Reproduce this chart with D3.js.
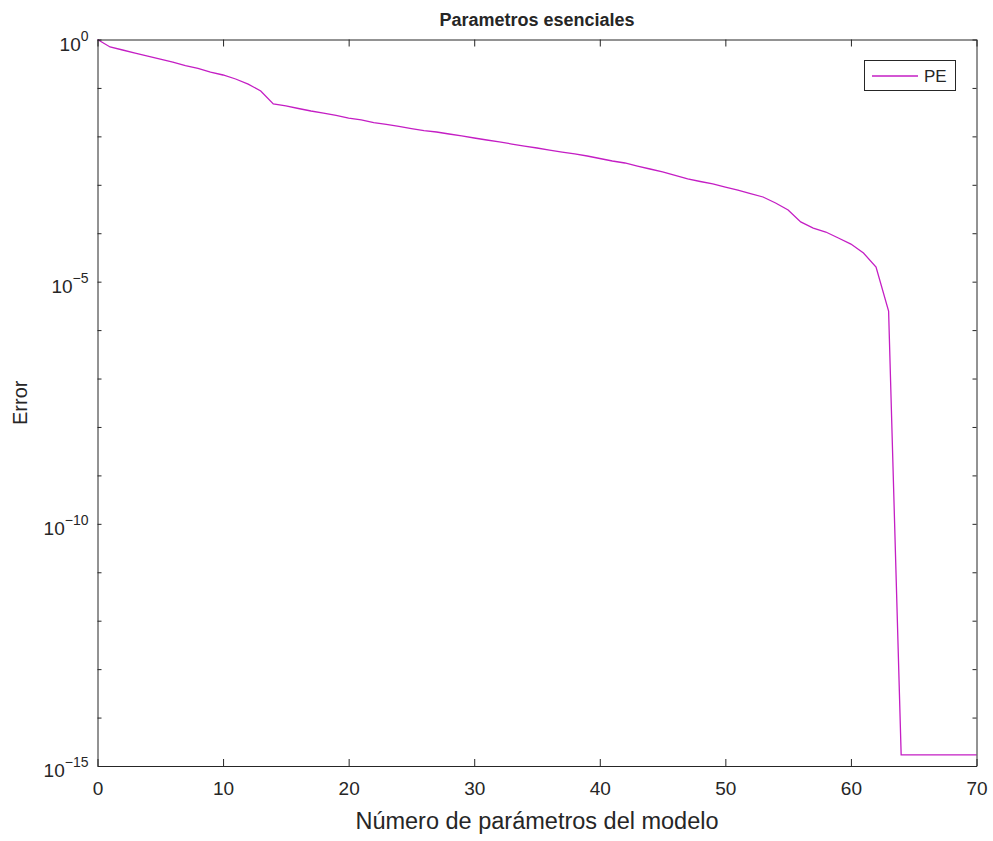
<!DOCTYPE html>
<html>
<head>
<meta charset="utf-8">
<script src="https://cdn.jsdelivr.net/npm/d3@7"></script>
<style>
  html, body { margin: 0; padding: 0; background: #fff; }
  svg { display: block; }
  text { font-family: "Liberation Sans", Arial, Helvetica, sans-serif; fill: #262626; }
</style>
</head>
<body>
<svg id="chart" width="993" height="841"></svg>
<script>
// ---- data ----
const xValues = [0,1,2,3,4,5,6,7,8,9,10,11,12,13,14,15,16,17,18,19,20,21,22,23,24,25,26,27,28,29,30,31,32,33,34,35,36,37,38,39,40,41,42,43,44,45,46,47,48,49,50,51,52,53,54,55,56,57,58,59,60,61,62,63,64,65,66,67,68,69,70];
const peValues = [1.0,0.70,0.607,0.526,0.456,0.395,0.343,0.290,0.252,0.213,0.185,0.153,0.120,0.0865,0.0466,0.0424,0.0376,0.0334,0.0303,0.0270,0.0239,0.0218,0.0193,0.0176,0.0160,0.0145,0.0132,0.0123,0.0112,0.0102,0.00925,0.00841,0.00766,0.00695,0.00632,0.00575,0.00522,0.00475,0.00433,0.00393,0.00349,0.00310,0.00282,0.00244,0.00212,0.00184,0.00156,0.00132,0.00117,0.00104,0.000900,0.000780,0.000661,0.000560,0.000421,0.000302,0.000171,0.000128,0.000106,0.0000796,0.0000598,0.0000390,0.0000200,0.00000248,1.7e-15,1.7e-15,1.7e-15,1.7e-15,1.7e-15,1.7e-15,1.7e-15];
const xTicks = [0,10,20,30,40,50,60,70];
const yMinorTicks = [1e0,1e-1,1e-2,1e-3,1e-4,1e-5,1e-6,1e-7,1e-8,1e-9,1e-10,1e-11,1e-12,1e-13,1e-14,1e-15];
const yLabelTicks = [1e0,1e-5,1e-10,1e-15];
const yLabelExps = ["0","\u22125","\u221210","\u221215"];
const titleText = "Parametros esenciales";
const xLabelText = "Número de parámetros del modelo";
const yLabelText = "Error";
const seriesName = "PE";

// ---- layout ----
const L = 97.5, R = 976.5, T = 39.5, B = 766;
const svg = d3.select("#chart");
const x = d3.scaleLinear().domain([0, 70]).range([L, R]);
const y = d3.scaleLog().domain([1e-15, 1]).range([B, T]);
const axisColor = "#262626";
const lineColor = "#c41ec4";

// plot line
const line = d3.line().x((d, i) => x(xValues[i])).y(d => y(d));
svg.append("path")
  .datum(peValues)
  .attr("d", line)
  .attr("fill", "none")
  .attr("stroke", lineColor)
  .attr("stroke-width", 1.3);

// axes (box)
function styleAxis(g) {
  g.selectAll("path.domain").attr("stroke", axisColor).attr("stroke-width", 1);
  g.selectAll(".tick line").attr("stroke", axisColor).attr("stroke-width", 1);
}
// bottom
const gb = svg.append("g").attr("transform", `translate(0,${B})`)
  .call(d3.axisBottom(x).tickValues(xTicks).tickSizeInner(-7).tickSizeOuter(0).tickPadding(16));
styleAxis(gb);
gb.selectAll("text").attr("font-size", 19).attr("fill", axisColor)
  .attr("font-family", '"Liberation Sans", Arial, sans-serif');
// top
const gt = svg.append("g").attr("transform", `translate(0,${T})`)
  .call(d3.axisTop(x).tickValues(xTicks).tickSizeInner(-7).tickSizeOuter(0).tickFormat(""));
styleAxis(gt);
// left
const gl = svg.append("g").attr("transform", `translate(${L},0)`)
  .call(d3.axisLeft(y).tickValues(yMinorTicks).tickSizeInner(-4).tickSizeOuter(0).tickFormat(""));
styleAxis(gl);
// right
const gr = svg.append("g").attr("transform", `translate(${R},0)`)
  .call(d3.axisRight(y).tickValues(yMinorTicks).tickSizeInner(-4).tickSizeOuter(0).tickFormat(""));
styleAxis(gr);

// y tick labels with superscripts
yLabelTicks.forEach((v, i) => {
  const t = svg.append("text")
    .attr("x", L - 9)
    .attr("y", y(v) + 11)
    .attr("text-anchor", "end")
    .attr("font-size", 19);
  t.append("tspan").text("10");
  t.append("tspan").attr("dy", -10).attr("font-size", 14).text(yLabelExps[i]);
});

// title
svg.append("text")
  .attr("x", (L + R) / 2).attr("y", 26)
  .attr("text-anchor", "middle")
  .attr("font-size", 18).attr("font-weight", "bold")
  .attr("fill", "#000")
  .text(titleText);

// x label
svg.append("text")
  .attr("x", (L + R) / 2).attr("y", 829)
  .attr("text-anchor", "middle")
  .attr("font-size", 23.5)
  .text(xLabelText);

// y label
svg.append("text")
  .attr("transform", `translate(27,${(T + B) / 2}) rotate(-90)`)
  .attr("text-anchor", "middle")
  .attr("font-size", 20)
  .text(yLabelText);

// legend
const lg = svg.append("g");
lg.append("rect").attr("x", 864.5).attr("y", 60.5).attr("width", 91).attr("height", 30)
  .attr("fill", "#fff").attr("stroke", axisColor).attr("stroke-width", 1);
lg.append("line").attr("x1", 872).attr("x2", 918).attr("y1", 76).attr("y2", 76)
  .attr("stroke", lineColor).attr("stroke-width", 1.3);
lg.append("text").attr("x", 924).attr("y", 82).attr("font-size", 17).text(seriesName);
</script>
</body>
</html>
